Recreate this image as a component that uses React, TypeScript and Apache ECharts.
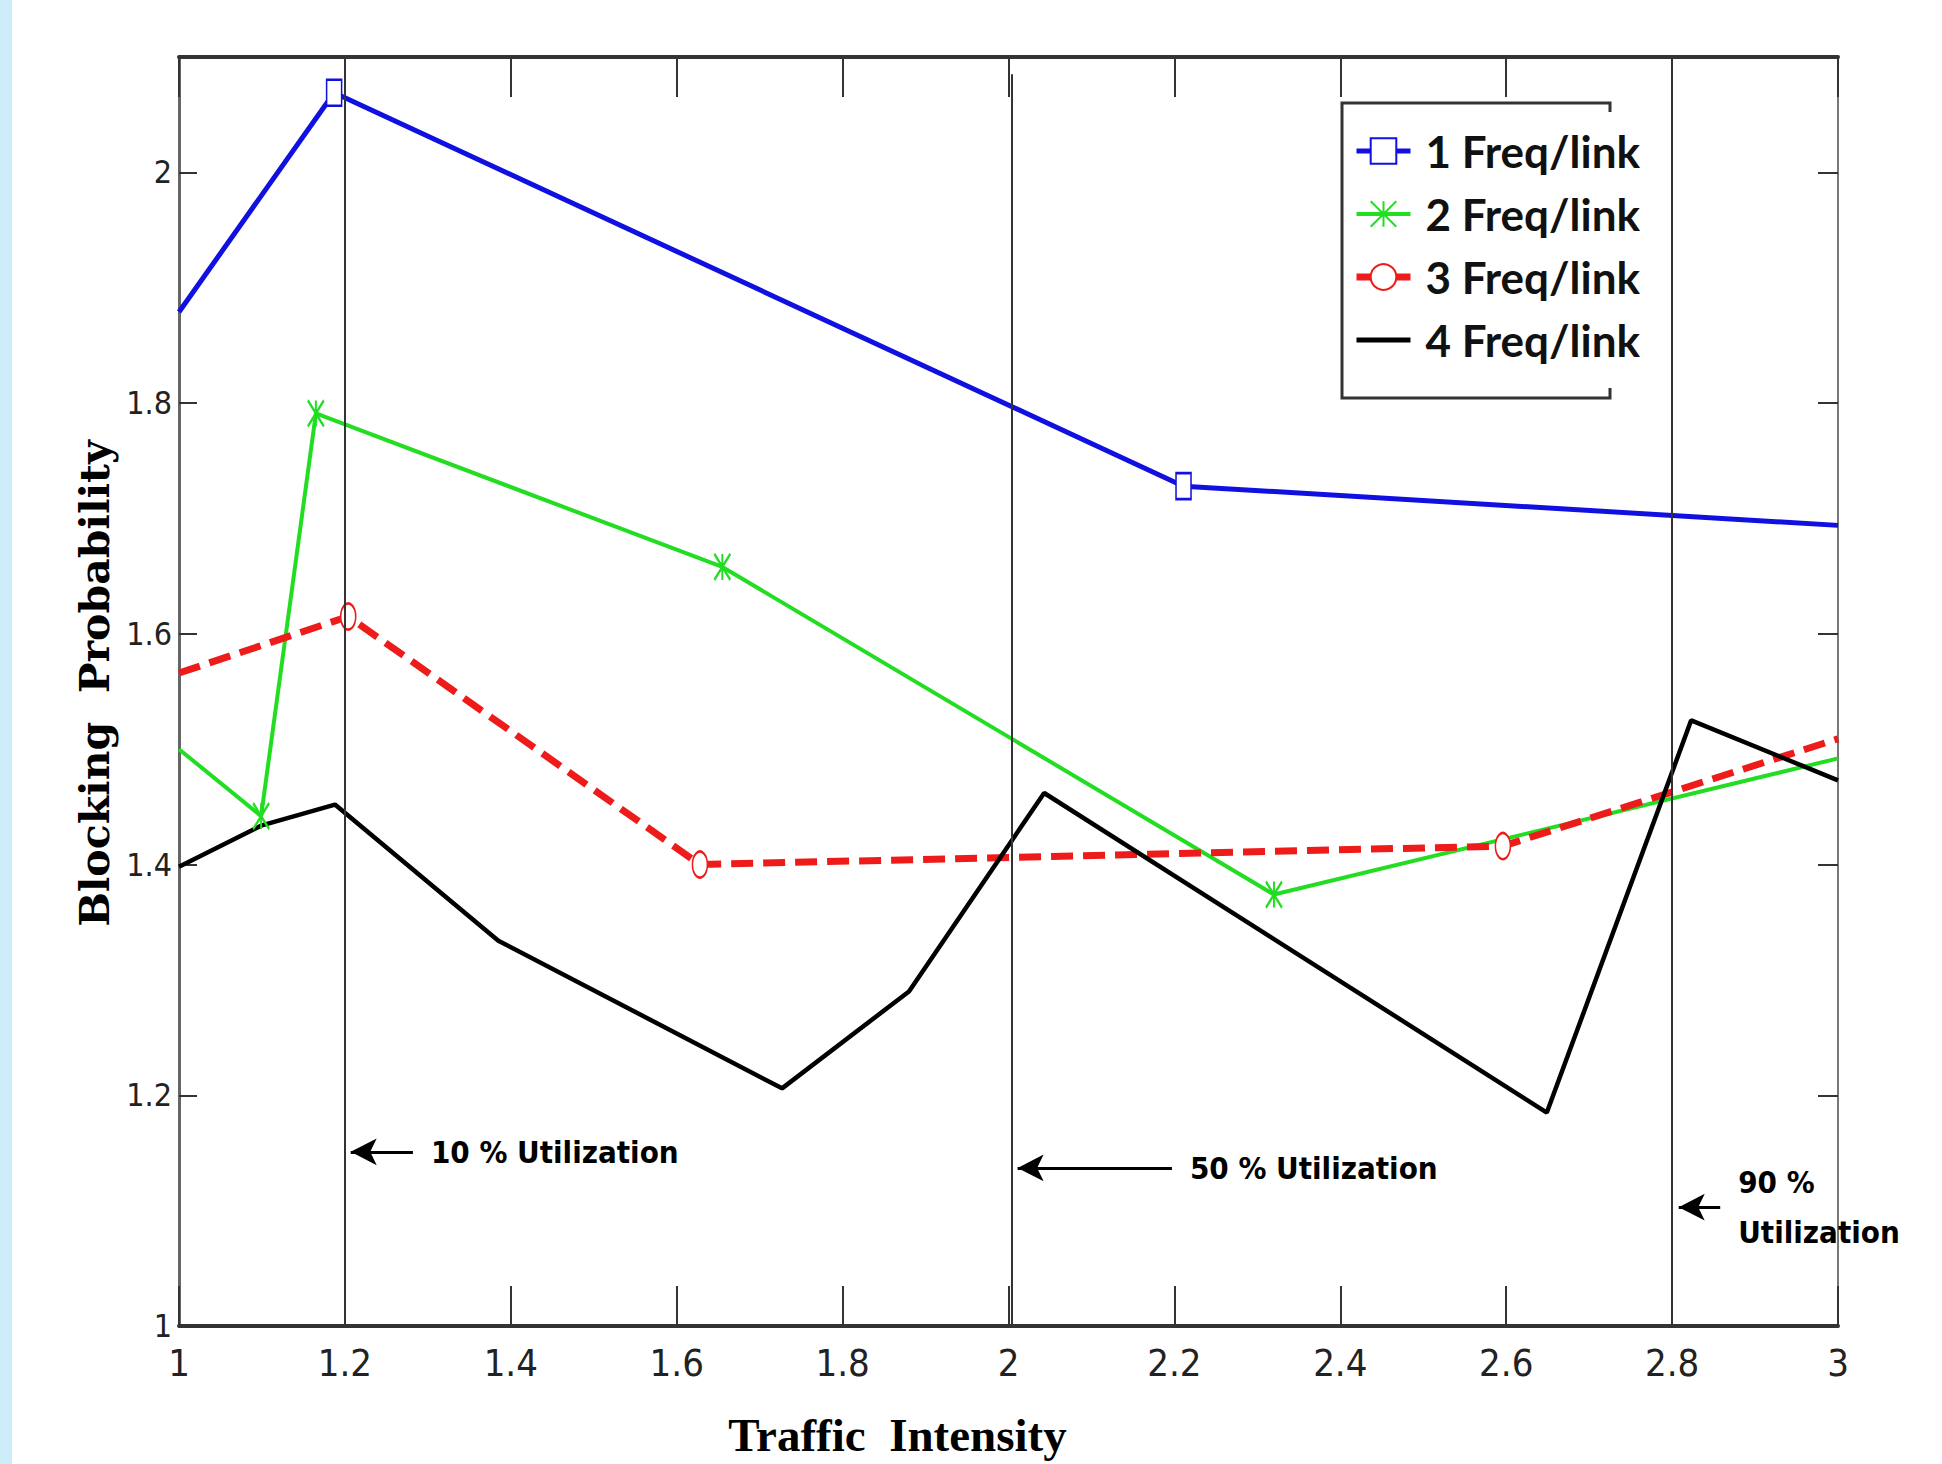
import React, { useEffect, useRef } from 'react';
import * as echarts from 'echarts';

const seriesNames = ['1 Freq/link', '2 Freq/link', '3 Freq/link', '4 Freq/link'];

const blueX = [1, 1.187, 2.211, 3];
const blueY = [1.879, 2.069, 1.728, 1.694];

const greenX = [1, 1.099, 1.165, 1.655, 2.32, 3];
const greenY = [1.5, 1.442, 1.791, 1.658, 1.374, 1.492];

const redX = [1, 1.204, 1.628, 2.596, 3];
const redY = [1.566, 1.615, 1.4, 1.416, 1.509];

const blackX = [1, 1.1, 1.188, 1.385, 1.727, 1.88, 2.043, 2.649, 2.823, 3];
const blackY = [1.398, 1.434, 1.452, 1.334, 1.206, 1.29, 1.462, 1.185, 1.525, 1.473];

const utilLineX = [1.2, 2.004, 2.8];
const utilLineTop = [2.1, 2.085, 2.1];
const utilLabels = ['10 % Utilization', '50 % Utilization', '90 %\nUtilization'];
const arrowFromX = [1.282, 2.197, 2.858];
const arrowToX = [1.207, 2.011, 2.808];
const arrowY = [1.151, 1.137, 1.103];

const narrow = "'Liberation Sans Narrow', 'Arial Narrow', 'DejaVu Sans Condensed', sans-serif";

function toData(xs: number[], ys: number[]) {
  return xs.map((x, i) => {
    const item: any = { value: [x, ys[i]] };
    if (i === 0 || i === xs.length - 1) item.symbol = 'none';
    return item;
  });
}

export default function App() {
  const ref = useRef<HTMLDivElement>(null);
  useEffect(() => {
    if (!ref.current) return;
    const chart = echarts.init(ref.current, undefined, { renderer: 'svg' });

    const markData: any[] = [];
    utilLineX.forEach((x, i) => {
      markData.push([
        { coord: [x, 1], lineStyle: { color: '#333', width: 2, type: 'solid' }, label: { show: false } },
        { coord: [x, utilLineTop[i]] },
      ]);
    });
    utilLabels.forEach((t, i) => {
      markData.push([
        {
          coord: [arrowFromX[i], arrowY[i]],
          lineStyle: { color: '#000', width: 3, type: 'solid' },
          label: {
            show: true,
            position: 'start',
            distance: 18,
            formatter: t,
            fontFamily: narrow,
            fontWeight: 'bold',
            fontSize: 31,
            lineHeight: 50,
            color: '#000',
          },
        },
        { coord: [arrowToX[i], arrowY[i]], symbol: 'arrow', symbolSize: [20, 26] },
      ]);
    });

    const option: any = {
      animation: false,
      backgroundColor: '#ffffff',
      grid: { left: 179, right: 104, top: 57, bottom: 138, containLabel: false },
      legend: {
        data: [
          { name: seriesNames[0] },
          { name: seriesNames[1] },
          { name: seriesNames[2] },
          { name: seriesNames[3], icon: 'path://M0,0L54,0L54,5L0,5Z', itemStyle: { color: '#000' } },
        ],
        orient: 'vertical',
        left: 1348,
        top: 124,
        itemWidth: 54,
        itemHeight: 32,
        itemGap: 19,
        selectedMode: false,
        lineStyle: { width: 'inherit' },
        textStyle: {
          fontFamily: "Lato, 'Open Sans', sans-serif",
          fontWeight: 'bold',
          fontSize: 44,
          lineHeight: 44,
          color: '#111',
          padding: [0, 0, 0, 10],
        },
      },
      xAxis: [
        {
          type: 'value',
          min: 1,
          max: 3,
          interval: 0.2,
          position: 'bottom',
          name: 'Traffic  Intensity',
          nameLocation: 'middle',
          nameGap: 85,
          nameTextStyle: {
            fontFamily: "'Liberation Serif', 'Times New Roman', serif",
            fontWeight: 'bold',
            fontSize: 47,
            color: '#000',
            padding: [0, 222, 0, 0],
          },
          axisLine: { show: true, onZero: false, lineStyle: { color: '#333', width: 4 } },
          axisTick: { show: true, inside: true, length: 40, lineStyle: { color: '#333', width: 2 } },
          axisLabel: { margin: 18, fontFamily: narrow, fontSize: 38, color: '#222' },
          splitLine: { show: false },
        },
        {
          type: 'value',
          min: 1,
          max: 3,
          interval: 0.2,
          position: 'top',
          axisLine: { show: true, onZero: false, lineStyle: { color: '#333', width: 4 } },
          axisTick: { show: true, inside: true, length: 40, lineStyle: { color: '#333', width: 2 } },
          axisLabel: { show: false },
          splitLine: { show: false },
        },
      ],
      yAxis: [
        {
          type: 'value',
          min: 1,
          max: 2.1,
          interval: 0.2,
          position: 'left',
          name: 'Blocking  Probability',
          nameLocation: 'middle',
          nameGap: 34,
          nameTextStyle: {
            fontFamily: "'DejaVu Serif', 'Liberation Serif', serif",
            fontWeight: 'bold',
            fontSize: 41,
            color: '#000',
            padding: [0, 0, 0, 16],
          },
          axisLine: { show: true, onZero: false, lineStyle: { color: '#666', width: 3 } },
          axisTick: { show: true, inside: true, length: 18, lineStyle: { color: '#333', width: 2 } },
          axisLabel: { margin: 7, fontFamily: narrow, fontSize: 32, color: '#222', showMaxLabel: false },
          splitLine: { show: false },
        },
        {
          type: 'value',
          min: 1,
          max: 2.1,
          interval: 0.2,
          position: 'right',
          axisLine: { show: true, onZero: false, lineStyle: { color: '#777', width: 2 } },
          axisTick: { show: true, inside: true, length: 20, lineStyle: { color: '#333', width: 2 } },
          axisLabel: { show: false },
          splitLine: { show: false },
        },
      ],
      graphic: [
        { type: 'rect', shape: { x: 0, y: 0, width: 12, height: 1464 }, style: { fill: '#cdeef9' }, z: 0 },
        {
          type: 'polyline',
          shape: { points: [[1610, 112], [1610, 103], [1342, 103], [1342, 398], [1610, 398], [1610, 388]] },
          style: { stroke: '#333', lineWidth: 3, fill: null },
        },
      ],
      series: [
        {
          name: 'annotations',
          type: 'line',
          data: [],
          silent: true,
          markLine: {
            silent: true,
            symbol: ['none', 'none'],
            label: { show: false },
            data: markData,
          },
        },
        {
          name: seriesNames[0],
          type: 'line',
          data: toData(blueX, blueY),
          symbol: 'emptyRect',
          symbolSize: [15, 26],
          lineStyle: { color: '#1010e0', width: 5 },
          itemStyle: { color: '#1010e0', borderWidth: 3 },
        },
        {
          name: seriesNames[1],
          type: 'line',
          data: toData(greenX, greenY),
          symbol: 'path://M0,0L10,10M10,0L0,10M5,0L5,10',
          symbolSize: [16, 26],
          lineStyle: { color: '#22dd22', width: 4 },
          itemStyle: { color: '#22dd22', borderColor: '#22dd22', borderWidth: 2.5 },
        },
        {
          name: seriesNames[2],
          type: 'line',
          data: toData(redX, redY),
          symbol: 'emptyCircle',
          symbolSize: [15, 26],
          lineStyle: { color: '#ee1b1b', width: 7, type: [22, 10] },
          itemStyle: { color: '#ee1b1b', borderWidth: 2.5 },
        },
        {
          name: seriesNames[3],
          type: 'line',
          data: toData(blackX, blackY),
          symbol: 'none',
          lineStyle: { color: '#000', width: 4.5 },
          itemStyle: { color: '#000' },
        },
      ],
    };
    chart.setOption(option);
    return () => chart.dispose();
  }, []);
  return (
    <div
      ref={ref}
      style={{ position: 'absolute', left: 0, top: 0, width: 1942, height: 1464 }}
    />
  );
}
